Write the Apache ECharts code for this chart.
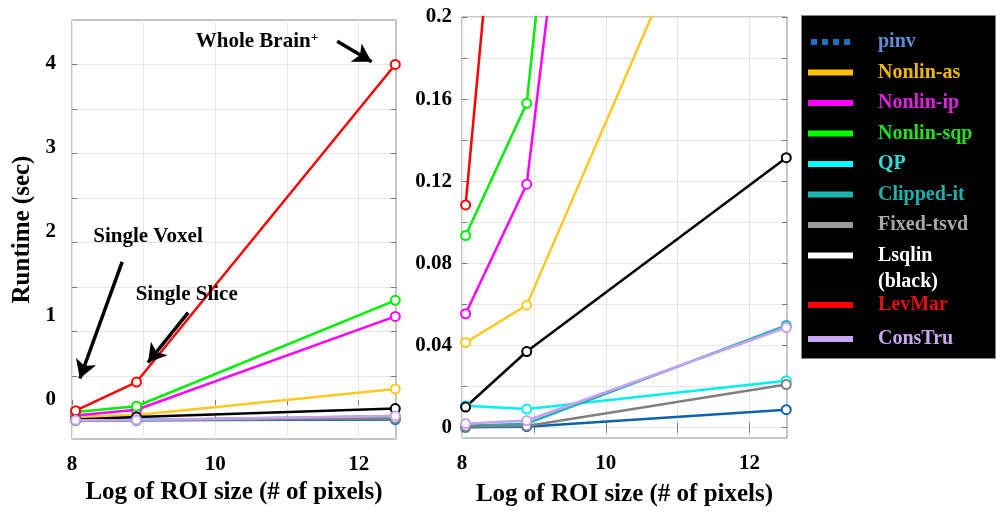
<!DOCTYPE html>
<html><head><meta charset="utf-8">
<script src="https://cdn.jsdelivr.net/npm/echarts@6/dist/echarts.min.js"></script>
<style>html,body{margin:0;padding:0;background:#fff}#c{width:1000px;height:512px}</style>
</head><body><div id="c"></div>
<script>
// ---- data ----
const roiLog = [8.05, 8.9, 12.51];
const pinv      = [0.0002, 0.0005, 0.0088];
const nonlinAs  = [0.0415, 0.0597, 0.352];
const nonlinIp  = [0.0555, 0.1186, 1.168];
const nonlinSqp = [0.0936, 0.158, 1.349];
const qp        = [0.0107, 0.0091, 0.0229];
const clippedIt = [0.0010, 0.0020, 0.0498];
const fixedTsvd = [0.0006, 0.0008, 0.0210];
const lsqlin    = [0.0101, 0.0371, 0.1315];
const levMar    = [0.1085, 0.43, 4.0];
const consTru   = [0.0020, 0.0035, 0.0488];

const methodNames = ['pinv','Nonlin-as','Nonlin-ip','Nonlin-sqp','QP','Clipped-it','Fixed-tsvd','Lsqlin','LevMar','ConsTru'];
const methodValues = [pinv, nonlinAs, nonlinIp, nonlinSqp, qp, clippedIt, fixedTsvd, lsqlin, levMar, consTru];

const xTickValues = [8, 9, 10, 11, 12];
const xTickLabels = [8, 10, 12];
const leftGridValues = [0, 0.5, 1, 1.5, 2, 2.5, 3, 3.5, 4];
const leftTickLabels = [0, 1, 2, 3, 4];
const rightGridValues = [0, 0.02, 0.04, 0.06, 0.08, 0.1, 0.12, 0.14, 0.16, 0.18, 0.2];
const rightTickLabels = [0, 0.04, 0.08, 0.12, 0.16, 0.2];

// ---- styles ----
const lineColors = ['#0b62b0','#ffc820','#ff00ff','#00ee00','#00f0f0','#20b0b8','#808080','#000000','#ff0000','#c8a0f0'];
const iconColors = ['#1a72c0','#ffc000','#ff00ff','#00ff00','#00ffff','#19b5b5','#999999','#ffffff','#ff0000','#c8a8f0'];
const textColors = ['#5b8fd0','#f2b705','#e020e0','#20e020','#30d8d8','#20b0b0','#a8a8a8','#ffffff','#e01010','#c8a8f0'];
const FONT = '"Liberation Serif", "Times New Roman", serif';

const chart = echarts.init(document.getElementById('c'), null, {renderer: 'canvas'});

function tickAxisBase(extra) {
  return Object.assign({
    type: 'value',
    axisLine: {show: false},
    axisTick: {show: true, inside: true, length: 5, lineStyle: {color: '#777'}},
    axisLabel: {show: false},
    splitLine: {show: false}
  }, extra);
}

const xAxes = [
  tickAxisBase({gridIndex: 0, position: 'bottom', min: 8, max: 12.52,
    axisTick: {show: true, inside: true, length: 5, lineStyle: {color: '#777'}, customValues: xTickValues},
    axisLabel: {show: true, customValues: xTickLabels, color: '#000', fontFamily: FONT, fontWeight: 'bold', fontSize: 21, margin: 15},
    splitLine: {show: true, lineStyle: {color: '#e6e6e6', width: 1}},
    name: 'Log of ROI size (# of pixels)', nameLocation: 'middle', nameGap: 40,
    nameTextStyle: {color: '#000', fontFamily: FONT, fontWeight: 'bold', fontSize: 25}}),
  tickAxisBase({gridIndex: 0, position: 'top', min: 8, max: 12.52,
    axisTick: {show: true, inside: true, length: 5, lineStyle: {color: '#777'}, customValues: xTickValues}}),
  tickAxisBase({gridIndex: 1, position: 'bottom', min: 8, max: 12.52,
    axisTick: {show: true, inside: true, length: 5, lineStyle: {color: '#777'}, customValues: xTickValues},
    axisLabel: {show: true, customValues: xTickLabels, color: '#000', fontFamily: FONT, fontWeight: 'bold', fontSize: 21, margin: 15},
    splitLine: {show: true, lineStyle: {color: '#e6e6e6', width: 1}},
    name: 'Log of ROI size (# of pixels)', nameLocation: 'middle', nameGap: 44,
    nameTextStyle: {color: '#000', fontFamily: FONT, fontWeight: 'bold', fontSize: 25}}),
  tickAxisBase({gridIndex: 1, position: 'top', min: 8, max: 12.52,
    axisTick: {show: true, inside: true, length: 5, lineStyle: {color: '#777'}, customValues: xTickValues}})
];

const yAxes = [
  // 0: left grid data axis (grid lines)
  tickAxisBase({gridIndex: 0, position: 'left', min: -0.21, max: 4.5,
    axisTick: {show: true, inside: true, length: 5, lineStyle: {color: '#777'}, customValues: leftGridValues},
    splitLine: {show: true, lineStyle: {color: '#e6e6e6', width: 1}}}),
  // 1: left grid label axis (labels as placed in the source figure)
  {type: 'value', gridIndex: 0, position: 'left', min: -0.464, max: 4.524,
    axisLine: {show: false}, axisTick: {show: false}, splitLine: {show: false},
    axisLabel: {show: true, customValues: leftTickLabels, color: '#000', fontFamily: FONT, fontWeight: 'bold', fontSize: 21, margin: 16},
    name: 'Runtime (sec)', nameLocation: 'middle', nameGap: 37, nameRotate: 90,
    nameTextStyle: {color: '#000', fontFamily: FONT, fontWeight: 'bold', fontSize: 25}},
  // 2: left grid right-side ticks
  tickAxisBase({gridIndex: 0, position: 'right', min: -0.21, max: 4.5,
    axisTick: {show: true, inside: true, length: 5, lineStyle: {color: '#777'}, customValues: leftGridValues}}),
  // 3: right grid data axis
  tickAxisBase({gridIndex: 1, position: 'left', min: -0.005, max: 0.2,
    axisTick: {show: true, inside: true, length: 5, lineStyle: {color: '#777'}, customValues: rightGridValues},
    axisLabel: {show: true, customValues: rightTickLabels, color: '#000', fontFamily: FONT, fontWeight: 'bold', fontSize: 21, margin: 10},
    splitLine: {show: true, lineStyle: {color: '#e6e6e6', width: 1}}}),
  // 4: right grid right-side ticks
  tickAxisBase({gridIndex: 1, position: 'right', min: -0.005, max: 0.2,
    axisTick: {show: true, inside: true, length: 5, lineStyle: {color: '#777'}, customValues: rightGridValues}})
];

const series = [];
methodNames.forEach((name, i) => {
  const data = roiLog.map((x, j) => [x, methodValues[i][j]]);
  const base = {
    name, type: 'line', data,
    symbol: 'emptyCircle', symbolSize: 9,
    lineStyle: {color: lineColors[i], width: 2.5},
    itemStyle: {color: lineColors[i], borderWidth: 2},
    clip: true, silent: true
  };
  series.push(Object.assign({}, base, {xAxisIndex: 0, yAxisIndex: 0}));
  series.push(Object.assign({}, base, {xAxisIndex: 2, yAxisIndex: 3}));
});

// annotations on the left panel (data coordinates)
const annoStyle = {color: '#000', fontFamily: FONT, fontWeight: 'bold', fontSize: 21};
const levLeft = series[16];
levLeft.markLine = {
  silent: true, symbol: ['none', 'arrow'], symbolSize: [16, 18],
  lineStyle: {color: '#000', width: 3.5, type: 'solid'},
  label: {show: false},
  data: [
    [{coord: [11.70, 4.26]}, {coord: [12.18, 4.03]}],
    [{coord: [8.70, 1.78]}, {coord: [8.11, 0.47]}],
    [{coord: [9.62, 1.21]}, {coord: [9.06, 0.65]}]
  ]
};
levLeft.markPoint = {
  silent: true, symbol: 'circle', symbolSize: 1,
  itemStyle: {color: 'rgba(0,0,0,0)'},
  label: Object.assign({show: true, position: 'inside'}, annoStyle),
  data: [
    {coord: [10.58, 4.26], label: {formatter: 'Whole Brain{sup|+}',
      rich: {sup: {fontFamily: FONT, fontWeight: 'bold', fontSize: 13, verticalAlign: 'top', color: '#000'}}}},
    {coord: [9.06, 2.06], label: {formatter: 'Single Voxel'}},
    {coord: [9.60, 1.41], label: {formatter: 'Single Slice'}}
  ]
};

const legendText = (i) => ({color: textColors[i], fontFamily: FONT, fontWeight: 'bold', fontSize: 20, lineHeight: 20, padding: [0, 0, 0, 20]});
const legendItem = (i) => ({
  name: methodNames[i],
  icon: i === 0 ? 'path://M0,0h6v6h-6z M11,0h6v6h-6z M22,0h6v6h-6z M33,0h6v6h-6z' : 'rect',
  itemStyle: {color: iconColors[i], borderWidth: 0},
  textStyle: legendText(i)
});

const option = {
  animation: false,
  backgroundColor: '#ffffff',
  grid: [
    {left: 72, top: 20, width: 324, height: 419, show: true, borderColor: '#8c8c8c', borderWidth: 1, backgroundColor: 'transparent'},
    {left: 462, top: 17, width: 325, height: 421, show: true, borderColor: '#8c8c8c', borderWidth: 1, backgroundColor: 'transparent'}
  ],
  xAxis: xAxes,
  yAxis: yAxes,
  legend: [
    {orient: 'vertical', left: 808, top: 32, padding: 0, itemGap: 10.5, itemWidth: 45, itemHeight: 6,
      selectedMode: false, data: [0,1,2,3,4,5,6,7].map(legendItem)},
    {orient: 'vertical', left: 808, top: 295, padding: 0, itemGap: 14, itemWidth: 45, itemHeight: 6,
      selectedMode: false, data: [8,9].map(legendItem)}
  ],
  graphic: [
    {type: 'rect', left: 801, top: 15, z: 0, silent: true,
      shape: {width: 194, height: 343}, style: {fill: '#000', stroke: '#888', lineWidth: 1}},
    {type: 'text', left: 878, top: 272, z: 10, silent: true,
      style: {text: '(black)', fill: '#fff', font: 'bold 20px "Liberation Serif", serif'}}
  ],
  series
};
chart.setOption(option);
</script>
</body></html>
